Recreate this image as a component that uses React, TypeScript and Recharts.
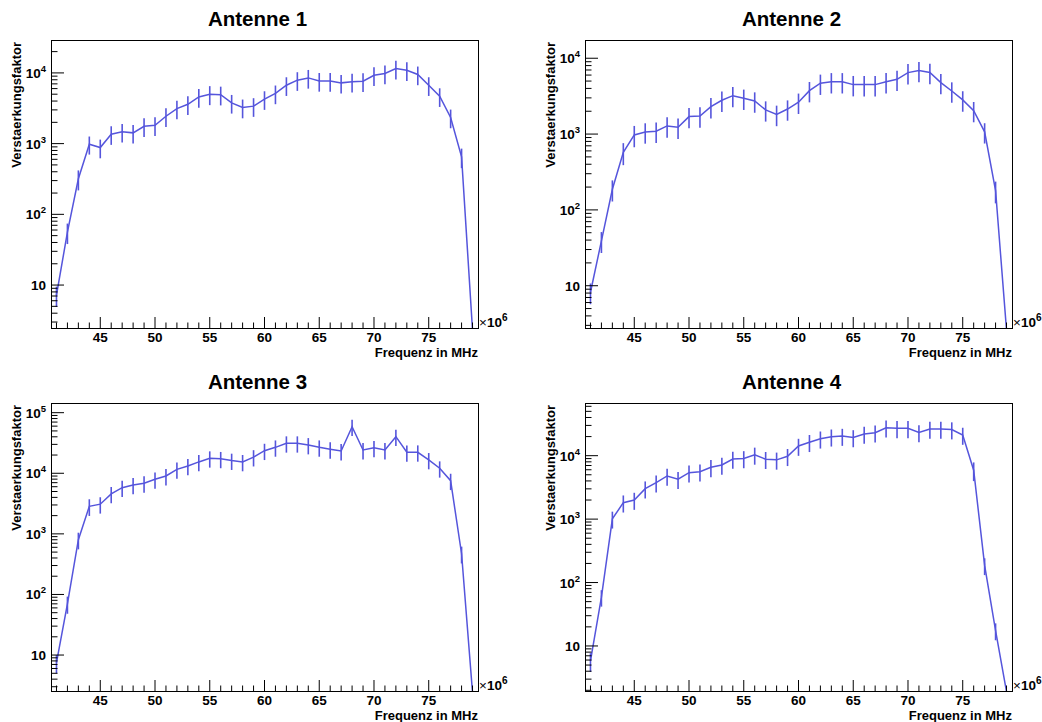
import React from "react";
import { LineChart, Line, XAxis, YAxis, ErrorBar } from "recharts";

// Frequenz (MHz), Bin-Mitten
const freq = [
  41, 42, 43, 44, 45, 46, 47, 48, 49, 50, 51, 52, 53, 54, 55, 56, 57, 58, 59, 60,
  61, 62, 63, 64, 65, 66, 67, 68, 69, 70, 71, 72, 73, 74, 75, 76, 77, 78, 79,
];
const xLabels = [45, 50, 55, 60, 65, 70, 75];

// Antenne 1
const gain1 = [
  7.2, 56, 318, 980, 880, 1360, 1470, 1420, 1760, 1820, 2440, 3130, 3600, 4570, 5000, 4930, 3770, 3240, 3390, 4250,
  5120, 6700, 7900, 8500, 7700, 7700, 7230, 7500, 7650, 9270, 9800, 11500, 10900, 9500, 6700, 4680, 2340, 650, 2.3,
];
const err1 = [
  2.3, 18, 100, 280, 260, 400, 430, 420, 520, 540, 720, 920, 1060, 1350, 1500, 1460, 1110, 960, 1000, 1250,
  1510, 1980, 2330, 2510, 2270, 2270, 2130, 2210, 2260, 2730, 2890, 3400, 3210, 2800, 1980, 1380, 690, 200, 0,
];

// Antenne 2
const gain2 = [
  8.2, 39, 187, 574, 975, 1067, 1090, 1280, 1230, 1700, 1730, 2300, 2790, 3210, 2970, 2730, 2080, 1820, 2140, 2630,
  3740, 4680, 4900, 4900, 4490, 4490, 4490, 4900, 5280, 6460, 6870, 6500, 4770, 3700, 2820, 2040, 1070, 179, 2.6,
];
const err2 = [
  2.5, 12, 58, 185, 305, 320, 330, 385, 370, 510, 520, 690, 840, 960, 890, 820, 620, 550, 640, 790,
  1120, 1400, 1470, 1470, 1350, 1350, 1350, 1470, 1580, 1940, 2060, 1950, 1430, 1110, 850, 610, 320, 57, 0,
];

// Antenne 3
const gain3 = [
  7.5, 70, 800, 2850, 3090, 4570, 5780, 6410, 6840, 7950, 9020, 11600, 13200, 15400, 17700, 17300, 16200, 15400, 18500, 23600,
  26800, 31300, 31300, 29300, 26800, 24900, 23300, 58700, 24200, 26300, 24200, 40200, 22200, 22200, 16600, 12100, 7550, 470, 2.4,
];
const err3 = [
  2.5, 22, 245, 875, 930, 1370, 1730, 1920, 2050, 2390, 2710, 3480, 3960, 4620, 5310, 5190, 4860, 4620, 5550, 7080,
  8040, 9390, 9390, 8790, 8040, 7470, 6990, 17600, 7260, 7890, 7260, 12100, 6660, 6660, 4980, 3630, 2270, 145, 0,
];

// Antenne 4
const gain4 = [
  5.8, 58.7, 1010, 1815, 2000, 3020, 3750, 4790, 4250, 5390, 5600, 6560, 7130, 8870, 9060, 10300, 8800, 8600, 9800, 14200,
  16300, 18500, 19900, 20400, 19400, 22000, 23000, 27600, 27000, 27000, 23300, 26300, 26300, 25800, 21200, 5900, 186, 17.5, 1.9,
];
const err4 = [
  1.9, 17, 300, 545, 600, 905, 1125, 1440, 1275, 1620, 1680, 1970, 2140, 2660, 2720, 3090, 2640, 2580, 2940, 4260,
  4890, 5550, 5970, 6120, 5820, 6600, 6900, 8280, 8100, 8100, 6990, 7890, 7890, 7740, 6360, 1930, 55, 5.2, 0,
];

const decades = [1, 10, 100, 1000, 10000, 100000];

const FONT = '"Liberation Sans", Arial, Helvetica, sans-serif';
const BLUE = "#5555dc";
const W = 521;
const H = 361;

// alle Log-Ticks (2..9 x 10^k) im Bereich
const logTicks = (lo: number, hi: number) => {
  const out: number[] = [];
  decades.forEach((d) => {
    for (let m = 1; m <= 9; m++) {
      const v = d * m;
      if (v >= lo && v <= hi) out.push(v);
    }
  });
  return out;
};

const YTick = (props: any) => {
  const { x, y, payload } = props;
  const lg = Math.log10(payload.value);
  const e = Math.round(lg);
  const major = Math.abs(lg - e) < 1e-6;
  return (
    <g>
      <line x1={x} x2={x + (major ? 13 : 6.5)} y1={y} y2={y} stroke="#000" strokeWidth={1} />
      {major && (
        <text x={x - 5} y={y + 5} textAnchor="end" fontFamily={FONT} fontWeight="bold" fontSize={13.5} fill="#000">
          10
          {e > 1 && (
            <tspan dy={-6} fontSize={9.5}>
              {e}
            </tspan>
          )}
        </text>
      )}
    </g>
  );
};

const XTick = (props: any) => {
  const { x, y, payload } = props;
  const major = xLabels.includes(payload.value);
  return (
    <g>
      <line x1={x} x2={x} y1={y} y2={y - (major ? 11 : 5.5)} stroke="#000" strokeWidth={1} />
      {major && (
        <text x={x} y={y + 14} textAnchor="middle" fontFamily={FONT} fontWeight="bold" fontSize={13.5} fill="#000">
          {payload.value}
        </text>
      )}
    </g>
  );
};

interface PanelProps {
  title: string;
  ox: number;
  oy: number;
  l: number;
  t: number;
  r: number;
  b: number;
  gain: number[];
  err: number[];
  yDomain: [number, number];
}

const Panel = ({ title, ox, oy, l, t, r, b, gain, err, yDomain }: PanelProps) => {
  const data = freq.map((f, i) => ({ f, v: gain[i], e: err[i] }));
  const yTicks = logTicks(yDomain[0], yDomain[1]);
  return (
    <div style={{ position: "absolute", left: ox, top: oy, width: W, height: H }}>
      <LineChart width={W} height={H} data={data} margin={{ top: t, right: W - r, left: 0, bottom: 0 }}>
        <XAxis
          dataKey="f"
          type="number"
          domain={[40.5, 79.5]}
          allowDataOverflow
          ticks={freq}
          interval={0}
          height={H - b}
          axisLine={false}
          tickLine={false}
          tickSize={0}
          tickMargin={0}
          tick={<XTick />}
        />
        <YAxis
          type="number"
          scale="log"
          domain={yDomain}
          allowDataOverflow
          ticks={yTicks}
          interval={0}
          width={l}
          axisLine={false}
          tickLine={false}
          tickSize={0}
          tickMargin={0}
          tick={<YTick />}
        />
        <Line
          type="linear"
          dataKey="v"
          stroke={BLUE}
          strokeWidth={1.5}
          dot={false}
          isAnimationActive={false}
        >
          <ErrorBar dataKey="e" width={0} stroke={BLUE} strokeWidth={1.6} direction="y" />
        </Line>
      </LineChart>
      <svg
        width={W}
        height={H}
        style={{ position: "absolute", left: 0, top: 0, pointerEvents: "none" }}
        fontFamily={FONT}
      >
        <rect x={l} y={t} width={r - l} height={b - t} fill="none" stroke="#000" strokeWidth={1} shapeRendering="crispEdges" />
        <text x={(l + r) / 2 - 7} y={t - 14} textAnchor="middle" fontWeight="bold" fontSize={20.5} fill="#000">
          {title}
        </text>
        <text
          transform={`translate(${l - 30.5},${t + 2}) rotate(-90)`}
          textAnchor="end"
          fontWeight="bold"
          fontSize={13}
          fill="#000"
        >
          Verstaerkungsfaktor
        </text>
        <text x={r} y={b + 29} textAnchor="end" fontWeight="bold" fontSize={13} fill="#000">
          Frequenz in MHz
        </text>
        <text x={r + 1} y={b - 1} fontSize={13.5} fill="#000">
          <tspan fontWeight="normal">×</tspan>
          <tspan fontWeight="bold">10</tspan>
          <tspan fontWeight="bold" dy={-6} fontSize={10}>
            6
          </tspan>
        </text>
      </svg>
    </div>
  );
};

export default function App() {
  return (
    <div style={{ position: "absolute", left: 0, top: 0, width: 1042, height: 722, background: "#fff" }}>
      <Panel title="Antenne 1" ox={0} oy={0} l={51} t={40} r={478} b={328} gain={gain1} err={err1} yDomain={[2.47, 29200]} />
      <Panel title="Antenne 2" ox={521} oy={0} l={64} t={40} r={491} b={328} gain={gain2} err={err2} yDomain={[2.77, 17400]} />
      <Panel title="Antenne 3" ox={0} oy={361} l={51} t={42} r={478} b={330} gain={gain3} err={err3} yDomain={[2.55, 144500]} />
      <Panel title="Antenne 4" ox={521} oy={361} l={64} t={42} r={491} b={330} gain={gain4} err={err4} yDomain={[1.95, 67700]} />
    </div>
  );
}
